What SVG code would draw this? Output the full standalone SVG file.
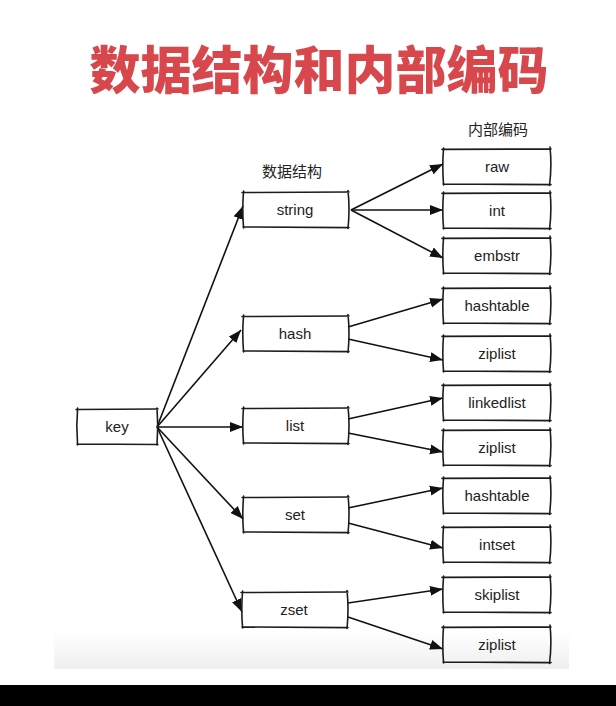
<svg xmlns="http://www.w3.org/2000/svg" xmlns:xlink="http://www.w3.org/1999/xlink" width="616" height="706" viewBox="0 0 616 706">
<style>
.bx{fill:none;stroke:#1c1c1c;stroke-width:1.6;stroke-linecap:round}
.t{font-family:"Liberation Sans",Arial,sans-serif;font-size:15px;fill:#222;text-anchor:middle}
.cj{font-family:"Noto Sans CJK SC","Noto Sans",sans-serif;font-size:15px;fill:#222;text-anchor:middle}
.ttl{font-family:"Noto Sans CJK SC","Noto Sans",sans-serif;font-size:51px;font-weight:900;fill:#d7474b;text-anchor:middle}
.c{fill:none;stroke:#111;stroke-width:1.6;marker-end:url(#ah)}
</style>
<defs>
<marker id="ah" markerUnits="userSpaceOnUse" markerWidth="15" markerHeight="11" refX="13" refY="5.5" orient="auto">
<path d="M0,0.5 L13,5.5 L0,10.5 Z" fill="#111"/>
</marker>
<linearGradient id="fade" x1="0" y1="0" x2="0" y2="1">
<stop offset="0" stop-color="#ffffff"/>
<stop offset="1" stop-color="#efefef"/>
</linearGradient>
<symbol id="bm" overflow="visible">
<path class="bx" d="M-1,0.5 L106,0 M0,35 L106,35.6 M0.6,-1 Q-1,17 0.6,36 M105,-1.5 Q107,17 105,36.5"/>
</symbol>
<symbol id="br" overflow="visible">
<path class="bx" d="M-1,0.4 L108,0 M0,35 L108,35.6 M0.6,-1 Q-1,17 0.6,36 M107,-2 Q109,17 106.5,36.5"/>
</symbol>
<symbol id="bk" overflow="visible">
<path class="bx" d="M-1,0.5 L81,0 M0,35 L81,35.5 M0.6,-1 Q-1,17 0.6,36 M80,-1 Q81.5,17 80,36"/>
</symbol>
</defs>
<rect width="616" height="706" fill="#ffffff"/>
<rect x="54" y="630" width="515" height="39" fill="url(#fade)"/>
<rect x="0" y="685" width="616" height="21" fill="#000"/>

<text class="ttl" x="319" y="89">数据结构和内部编码</text>
<text class="cj" x="498" y="135">内部编码</text>
<text class="cj" x="292" y="177">数据结构</text>

<g id="connectors">
<line class="c" x1="157" y1="427" x2="243" y2="206"/>
<line class="c" x1="157" y1="427" x2="241" y2="330"/>
<line class="c" x1="157" y1="427" x2="243" y2="427"/>
<line class="c" x1="157" y1="427" x2="243" y2="519"/>
<line class="c" x1="157" y1="427" x2="242" y2="612"/>
<line class="c" x1="351" y1="210" x2="443" y2="164"/>
<line class="c" x1="351" y1="210" x2="443" y2="210"/>
<line class="c" x1="351" y1="210" x2="443" y2="258"/>
<line class="c" x1="348" y1="327" x2="443" y2="299"/>
<line class="c" x1="348" y1="339" x2="443" y2="360"/>
<line class="c" x1="348" y1="419" x2="443" y2="398"/>
<line class="c" x1="348" y1="433" x2="443" y2="452"/>
<line class="c" x1="348" y1="508" x2="443" y2="488"/>
<line class="c" x1="348" y1="523" x2="443" y2="548"/>
<line class="c" x1="348" y1="603" x2="443" y2="589"/>
<line class="c" x1="348" y1="617" x2="443" y2="649"/>
</g>

<g id="key"><use xlink:href="#bk" x="77" y="409"/><text class="t" x="117" y="432">key</text></g>
<g id="string"><use xlink:href="#bm" x="243" y="192"/><text class="t" x="295" y="215">string</text></g>
<g id="hash"><use xlink:href="#bm" x="243" y="316"/><text class="t" x="295" y="339">hash</text></g>
<g id="list"><use xlink:href="#bm" x="243" y="408"/><text class="t" x="295" y="431">list</text></g>
<g id="set"><use xlink:href="#bm" x="243" y="497"/><text class="t" x="295" y="520">set</text></g>
<g id="zset"><use xlink:href="#bm" x="242" y="592"/><text class="t" x="294" y="615">zset</text></g>

<g id="raw"><use xlink:href="#br" x="443" y="149"/><text class="t" x="497" y="172">raw</text></g>
<g id="int"><use xlink:href="#br" x="443" y="193"/><text class="t" x="497" y="216">int</text></g>
<g id="embstr"><use xlink:href="#br" x="443" y="238"/><text class="t" x="497" y="261">embstr</text></g>
<g id="hashtable1"><use xlink:href="#br" x="443" y="288"/><text class="t" x="497" y="311">hashtable</text></g>
<g id="ziplist1"><use xlink:href="#br" x="443" y="336"/><text class="t" x="497" y="359">ziplist</text></g>
<g id="linkedlist"><use xlink:href="#br" x="443" y="385"/><text class="t" x="497" y="408">linkedlist</text></g>
<g id="ziplist2"><use xlink:href="#br" x="443" y="430"/><text class="t" x="497" y="453">ziplist</text></g>
<g id="hashtable2"><use xlink:href="#br" x="443" y="478"/><text class="t" x="497" y="501">hashtable</text></g>
<g id="intset"><use xlink:href="#br" x="443" y="527"/><text class="t" x="497" y="550">intset</text></g>
<g id="skiplist"><use xlink:href="#br" x="443" y="577"/><text class="t" x="497" y="600">skiplist</text></g>
<g id="ziplist3"><use xlink:href="#br" x="443" y="627"/><text class="t" x="497" y="650">ziplist</text></g>
</svg>
